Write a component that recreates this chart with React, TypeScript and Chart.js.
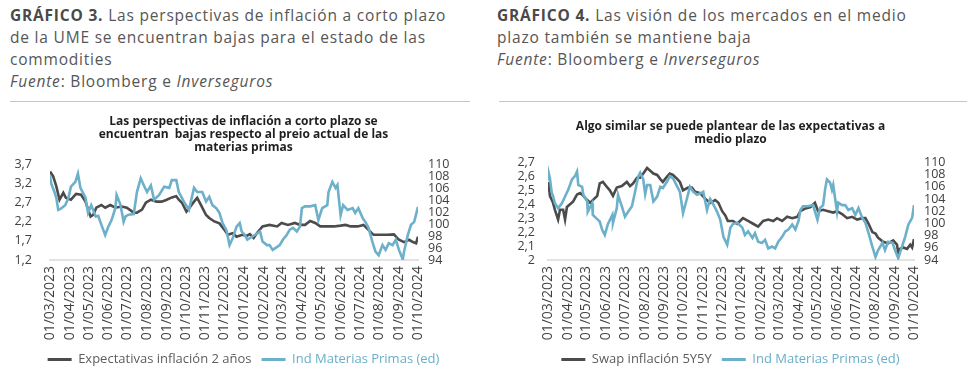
import React, { useEffect, useRef } from "react";
import { Chart, registerables } from "chart.js";

Chart.register(...registerables);

// ---------- shared x-axis tick labels (month starts) ----------
const monthLabels = [
  "01/03/2023", "01/04/2023", "01/05/2023", "01/06/2023", "01/07/2023",
  "01/08/2023", "01/09/2023", "01/10/2023", "01/11/2023", "01/12/2023",
  "01/01/2024", "01/02/2024", "01/03/2024", "01/04/2024", "01/05/2024",
  "01/06/2024", "01/07/2024", "01/08/2024", "01/09/2024", "01/10/2024",
];

// ---------- GRÁFICO 3 data (x = days since 01/03/2023) ----------
const g3InflDays = [0,5,10,15,21,25,33,41,49,56,60,64,68,73,81,87,95,103,113,121,132,137,145,151,159,168,176,184,192,199,203,208,215,219,227,232,238,246,251,259,267,275,280,288,294,303,310,315,321,326,335,346,358,365,375,386,394,402,410,418,426,437,447,458,466,474,485,494,502,510,521,532,542,550,558,566,572,577,580];
const g3InflValues = [3.52,3.39,3.13,2.78,2.96,2.83,2.78,2.93,2.91,2.73,2.52,2.34,2.38,2.57,2.64,2.57,2.64,2.57,2.6,2.57,2.44,2.44,2.52,2.7,2.78,2.73,2.73,2.78,2.84,2.87,2.78,2.7,2.47,2.55,2.73,2.83,2.64,2.38,2.3,2.21,2.16,1.99,1.86,1.9,1.81,1.86,1.83,1.88,1.78,1.9,2.08,2.12,2.08,2.17,2.12,2.17,2.12,2.12,2.22,2.17,2.08,2.08,2.08,2.1,2.12,2.08,2.08,2.12,1.99,1.86,1.86,1.86,1.87,1.73,1.67,1.73,1.67,1.64,1.81];

const g3CommDays = [0,2,7,10,13,17,24,29,33,40,44,48,56,60,65,72,76,81,87,92,97,103,105,111,116,119,124,132,137,143,148,153,159,164,172,180,188,192,199,203,211,219,227,232,240,246,251,256,262,267,272,278,283,288,294,299,302,307,311,318,323,331,335,342,346,351,358,362,367,373,378,383,389,394,397,402,410,418,423,429,437,439,445,450,453,458,462,469,477,481,486,493,497,502,508,513,518,524,529,534,540,545,550,556,558,564,569,574,580];
const g3CommValues = [108.2,106.8,105.4,104.4,102.4,102.6,103.2,104.4,106.3,107.1,108.5,106.1,104.4,101.9,103.2,101.3,101.4,99.9,98.2,99.6,100.7,102.7,104.9,103.3,100.4,101.3,101.6,101.7,105.4,107.7,106.5,105.4,106.5,104.1,104.9,106.3,106.1,107.4,107.4,105.4,103.8,102.4,106.1,105.4,105.4,103.8,104.6,103.2,102.7,101.9,100.2,99,96.5,97.7,99.6,100.2,98.8,98.2,97.4,97.9,98.2,98.8,97.1,96.5,96.5,95.7,96.2,96.5,97.4,98.2,99.1,99.4,98.8,99.6,102.7,103,103,103.2,100.7,102.7,103.2,105.4,107.1,106.1,106.6,101.5,103.2,102.4,102.7,101.9,102.7,101,100.4,99.4,97.1,95.4,94.8,96.5,95.7,96.8,96.5,97.4,95.7,94.1,95.4,98.2,99.9,100.4,102.9];

const g3LeftTicks = [1.2, 1.7, 2.2, 2.7, 3.2, 3.7];
const g3RightTicks = [94, 96, 98, 100, 102, 104, 106, 108, 110];

// ---------- GRÁFICO 4 data ----------
const g4SwapDays = [0,1,3,8,11,16,19,24,27,30,35,40,46,51,56,62,67,71,78,82,87,94,98,103,109,117,125,130,135,141,146,151,157,162,167,173,178,182,189,193,198,205,209,214,222,228,233,241,249,257,265,270,276,281,285,293,300,309,317,325,333,341,349,357,363,371,379,387,395,400,408,416,423,428,436,444,452,458,466,474,482,490,498,503,508,514,519,523,531,539,547,553,555,558,563,569,574,577,580];
const g4SwapValues = [2.50,2.56,2.46,2.41,2.36,2.29,2.36,2.36,2.29,2.38,2.40,2.42,2.47,2.48,2.46,2.43,2.41,2.43,2.46,2.55,2.56,2.52,2.50,2.46,2.52,2.53,2.56,2.53,2.55,2.59,2.59,2.62,2.66,2.64,2.62,2.61,2.58,2.56,2.60,2.62,2.61,2.58,2.56,2.50,2.52,2.52,2.49,2.48,2.44,2.41,2.43,2.41,2.35,2.32,2.28,2.28,2.26,2.30,2.28,2.26,2.24,2.28,2.29,2.28,2.30,2.28,2.31,2.30,2.31,2.35,2.37,2.38,2.41,2.35,2.36,2.35,2.34,2.35,2.33,2.30,2.31,2.29,2.30,2.30,2.26,2.20,2.19,2.16,2.13,2.12,2.14,2.11,2.05,2.08,2.09,2.08,2.11,2.09,2.15];

const g4CommDays = [0,1,3,6,8,11,16,22,27,32,38,43,46,48,54,56,62,63,70,71,78,82,86,90,95,102,103,109,111,117,122,127,133,138,143,146,151,154,157,162,167,173,178,182,189,193,198,205,209,214,220,225,230,236,241,246,252,257,262,268,273,278,284,289,293,300,308,312,317,324,328,333,339,344,349,355,360,365,371,376,381,387,392,397,400,404,412,420,427,431,436,439,442,447,450,452,458,460,466,471,476,482,487,492,498,503,508,514,519,523,530,534,539,546,550,555,561,566,571,577,580];
const g4CommValues = [107.2,108.3,107.4,105.0,104.5,103.3,102.5,103.3,104.4,105.5,107.2,107.8,108.5,106.3,106.0,104.7,103.6,101.9,103.3,101.4,100.7,100.3,98.9,98.1,99.9,101.4,100.1,102.5,104.7,102.8,101.1,101.9,102.8,105.2,107.7,108.3,107.2,104.8,106.3,106.3,103.6,104.4,106.0,105.8,106.9,107.7,107.4,106.0,105.2,101.7,104.0,106.0,105.2,104.7,104.9,105.2,102.2,104.0,103.1,101.9,100.6,97.8,96.5,99.3,99.9,100.1,99.3,98.1,98.7,97.6,98.4,97.0,96.8,97.3,95.9,96.2,95.9,97.0,97.8,98.7,99.0,99.8,99.0,100.4,102.2,102.8,102.8,103.0,100.6,102.5,103.0,105.5,107.2,106.7,105.5,106.3,101.9,103.4,103.0,103.0,102.2,102.5,101.4,102.5,100.9,100.1,98.4,96.2,94.5,95.6,96.8,95.6,97.0,96.8,95.6,94.3,96.2,97.8,99.8,100.9,103.0];

const g4LeftTicks = [2.0, 2.1, 2.2, 2.3, 2.4, 2.5, 2.6, 2.7];
const g4RightTicks = [94, 96, 98, 100, 102, 104, 106, 108, 110];

// ---------- styling ----------
const GRAY = "#4b4b4b";
const BLUE = "#6db0c9";
const FONT = "'Open Sans', 'Noto Sans', sans-serif";

const parseDay = (s: string) => {
  const [d, m, y] = s.split("/").map(Number);
  return Date.UTC(y, m - 1, d);
};
const BASE = parseDay(monthLabels[0]);
const monthOffsets = monthLabels.map((l) => Math.round((parseDay(l) - BASE) / 86400000));
const fmtComma = (v: number) => String(Number(v.toFixed(1))).replace(".", ",");

type Cfg = {
  title: string[];
  titlePadTop: number;
  titlePadBottom: number;
  leftW: number;
  rightW: number;
  leftPad: number;
  rightPad: number;
  leftTicks: number[];
  rightTicks: number[];
  s1Label: string;
  s1Days: number[];
  s1Values: number[];
  s2Label: string;
  s2Days: number[];
  s2Values: number[];
};

function LineChart({ cfg }: { cfg: Cfg }) {
  const ref = useRef<HTMLCanvasElement | null>(null);
  useEffect(() => {
    if (!ref.current) return;
    const lastDay = monthOffsets[monthOffsets.length - 1];
    const chart = new Chart(ref.current, {
      type: "line",
      data: {
        datasets: [
          {
            label: cfg.s1Label,
            data: cfg.s1Days.map((d, i) => ({ x: d, y: cfg.s1Values[i] })),
            borderColor: GRAY,
            backgroundColor: GRAY,
            borderWidth: 2.6,
            pointRadius: 0,
            tension: 0,
            yAxisID: "y",
            order: 1,
          },
          {
            label: cfg.s2Label,
            data: cfg.s2Days.map((d, i) => ({ x: d, y: cfg.s2Values[i] })),
            borderColor: BLUE,
            backgroundColor: BLUE,
            borderWidth: 2.6,
            pointRadius: 0,
            tension: 0,
            yAxisID: "y1",
            order: 0,
          },
        ],
      },
      options: {
        animation: false,
        responsive: false,
        maintainAspectRatio: false,
        layout: { padding: 0 },
        plugins: {
          tooltip: { enabled: false },
          title: {
            display: true,
            text: cfg.title,
            color: "#1f1f1f",
            font: { family: FONT, size: 12, weight: "bold", lineHeight: 1.1 },
            padding: { top: cfg.titlePadTop, bottom: cfg.titlePadBottom },
          },
          legend: {
            display: true,
            position: "bottom",
            labels: {
              boxWidth: 24,
              boxHeight: 3,
              padding: 10,
              font: { family: FONT, size: 13 },
              sort: (a: any, b: any) => a.datasetIndex - b.datasetIndex,
              generateLabels: (ch: any) => {
                const items = Chart.defaults.plugins.legend.labels.generateLabels(ch);
                return items.map((it: any) => {
                  const c = it.datasetIndex === 0 ? GRAY : BLUE;
                  return {
                    ...it,
                    fillStyle: c,
                    strokeStyle: c,
                    lineWidth: 0,
                    fontColor: it.datasetIndex === 0 ? "#5d5d5d" : "#6aaec8",
                  };
                });
              },
            },
          },
        },
        scales: {
          x: {
            type: "linear",
            min: 0,
            max: lastDay,
            grid: { display: false, drawTicks: false },
            border: { display: true, color: "#e3e3e3", width: 2 },
            afterBuildTicks: (s: any) => {
              s.ticks = monthOffsets.map((v) => ({ value: v }));
            },
            afterFit: (s: any) => {
              s.height = 83;
            },
            ticks: {
              autoSkip: false,
              maxRotation: 90,
              minRotation: 90,
              padding: 6,
              color: "#404040",
              font: { family: FONT, size: 14 },
              callback: (v: any) => {
                const idx = monthOffsets.indexOf(Number(v));
                return idx >= 0 ? monthLabels[idx] : "";
              },
            },
          },
          y: {
            type: "linear",
            position: "left",
            min: cfg.leftTicks[0],
            max: cfg.leftTicks[cfg.leftTicks.length - 1],
            grid: { display: false, drawTicks: false },
            border: { display: false },
            afterBuildTicks: (s: any) => {
              s.ticks = cfg.leftTicks.map((v) => ({ value: v }));
            },
            afterFit: (s: any) => {
              s.width = cfg.leftW;
            },
            ticks: {
              autoSkip: false,
              padding: cfg.leftPad,
              color: "#404040",
              font: { family: FONT, size: 12.5 },
              callback: (v: any) => fmtComma(Number(v)),
            },
          },
          y1: {
            type: "linear",
            position: "right",
            min: cfg.rightTicks[0],
            max: cfg.rightTicks[cfg.rightTicks.length - 1],
            grid: { display: false, drawTicks: false },
            border: { display: false },
            afterBuildTicks: (s: any) => {
              s.ticks = cfg.rightTicks.map((v) => ({ value: v }));
            },
            afterFit: (s: any) => {
              s.width = cfg.rightW;
            },
            ticks: {
              autoSkip: false,
              padding: cfg.rightPad,
              color: "#404040",
              font: { family: FONT, size: 12.5 },
              callback: (v: any) => String(v),
            },
          },
        },
      } as any,
    });
    return () => chart.destroy();
  }, [cfg]);
  return <canvas ref={ref} width={487} height={269} style={{ display: "block" }} />;
}

const cfg3: Cfg = {
  title: [
    "Las perspectivas de inflación a corto plazo se",
    "encuentran  bajas respecto al preio actual de las",
    "materias primas",
  ],
  titlePadTop: 8,
  titlePadBottom: 10,
  leftW: 50,
  rightW: 69,
  leftPad: 18,
  rightPad: 10,
  leftTicks: g3LeftTicks,
  rightTicks: g3RightTicks,
  s1Label: "Expectativas inflación 2 años",
  s1Days: g3InflDays,
  s1Values: g3InflValues,
  s2Label: "Ind Materias Primas (ed)",
  s2Days: g3CommDays,
  s2Values: g3CommValues,
};

const cfg4: Cfg = {
  title: ["Algo similar se puede plantear de las expectativas a", "medio plazo"],
  titlePadTop: 13,
  titlePadBottom: 16,
  leftW: 61,
  rightW: 60,
  leftPad: 13,
  rightPad: 10,
  leftTicks: g4LeftTicks,
  rightTicks: g4RightTicks,
  s1Label: "Swap inflación 5Y5Y",
  s1Days: g4SwapDays,
  s1Values: g4SwapValues,
  s2Label: "Ind Materias Primas (ed)",
  s2Days: g4CommDays,
  s2Values: g4CommValues,
};

const headStyle: React.CSSProperties = {
  position: "absolute",
  top: 4,
  fontFamily: FONT,
  fontSize: 15.5,
  letterSpacing: "0.8px",
  lineHeight: "22px",
  color: "#565656",
  whiteSpace: "nowrap",
};
const boldStyle: React.CSSProperties = { fontWeight: 700, color: "#4a4a4a" };

export default function App() {
  return (
    <div style={{ position: "absolute", left: 0, top: 0, width: 974, height: 374, background: "#fff", overflow: "hidden" }}>
      <div style={{ ...headStyle, left: 10 }}>
        <span style={boldStyle}>GRÁFICO 3.</span> Las perspectivas de inflación a corto plazo
        <br />
        de la UME se encuentran bajas para el estado de las
        <br />
        commodities
        <br />
        <i>Fuente</i>: Bloomberg e <i>Inverseguros</i>
      </div>
      <div style={{ ...headStyle, left: 497 }}>
        <span style={boldStyle}>GRÁFICO 4.</span> Las visión de los mercados en el medio
        <br />
        plazo también se mantiene baja
        <br />
        <i>Fuente</i>: Bloomberg e <i>Inverseguros</i>
      </div>
      <div style={{ position: "absolute", left: 10, top: 101, width: 460, height: 1, background: "#a9cde3" }} />
      <div style={{ position: "absolute", left: 499, top: 101, width: 468, height: 1, background: "#a9cde3" }} />
      <div style={{ position: "absolute", left: 0, top: 107 }}>
        <LineChart cfg={cfg3} />
      </div>
      <div style={{ position: "absolute", left: 487, top: 107 }}>
        <LineChart cfg={cfg4} />
      </div>
    </div>
  );
}
